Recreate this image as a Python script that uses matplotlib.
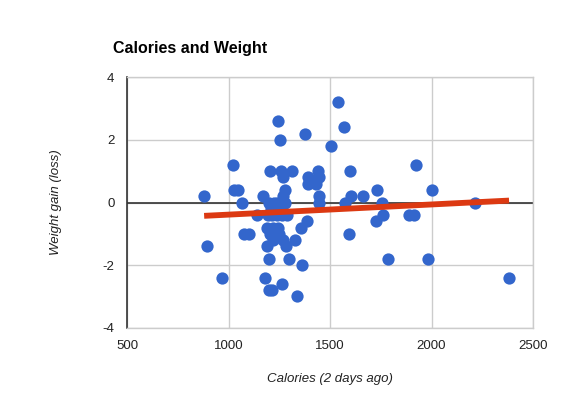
import matplotlib
matplotlib.use("Agg")
import matplotlib.pyplot as plt
import numpy as np

plt.rcParams['font.family'] = ['Liberation Sans', 'DejaVu Sans']
plt.rcParams['axes.unicode_minus'] = False

calories = [880, 895, 970, 1023, 1025, 1045, 1066, 1078, 1102, 1140,
            1170, 1180, 1198, 1212, 1262, 1336, 1360, 1200, 1300, 1190,
            1283, 1328, 1220, 1270, 1358, 1388, 1188, 1220, 1244, 1205,
            1235, 1250, 1242, 1252, 1377, 1506, 1541, 1570, 1600, 1924,
            2000, 2214, 2382, 1205, 1260, 1267, 1313, 1393, 1443, 1446,
            1393, 1430, 1276, 1267, 1447, 1445, 1575, 1603, 1663, 1730,
            1758, 1759, 1887, 1916, 1727, 1592, 1787, 1983, 1200, 1222,
            1240, 1262, 1280, 1230, 1255, 1195, 1215, 1240, 1265, 1288,
            1210]
weight = [0.2, -1.4, -2.4, 1.2, 0.4, 0.4, 0.0, -1.0, -1.0, -0.4,
          0.2, -2.4, -2.8, -2.8, -2.6, -3.0, -2.0, -1.8, -1.8, -1.4,
          -1.4, -1.2, -1.2, -1.2, -0.8, -0.6, -0.8, -0.8, -0.8, -1.0,
          -1.0, -1.0, 2.6, 2.0, 2.2, 1.8, 3.2, 2.4, 1.0, 1.2,
          0.4, 0.0, -2.4, 1.0, 1.0, 0.8, 1.0, 0.8, 1.0, 0.8,
          0.6, 0.6, 0.4, 0.2, 0.2, 0.0, 0.0, 0.2, 0.2, 0.4,
          0.0, -0.4, -0.4, -0.4, -0.6, -1.0, -1.8, -1.8, 0.0, 0.0,
          0.0, 0.0, 0.0, -0.2, -0.2, -0.4, -0.4, -0.4, -0.4, -0.4,
          -0.2]

x_ticks = [500, 1000, 1500, 2000, 2500]
y_ticks = [-4, -2, 0, 2, 4]

fig = plt.figure(figsize=(5.87, 3.98), dpi=100)
ax = fig.add_axes([127/587, 1-327.7/398, 406/587, 250.4/398])

ax.set_xlim(500, 2500)
ax.set_ylim(-4, 4)
ax.set_xticks(x_ticks)
ax.set_yticks(y_ticks)
ax.grid(True, color='#cccccc', linewidth=1)
ax.set_axisbelow(True)
for s in ['top', 'right', 'bottom']:
    ax.spines[s].set_color('#cccccc')
    ax.spines[s].set_linewidth(1)
ax.spines['left'].set_color('#333333')
ax.spines['left'].set_linewidth(1.2)
ax.axhline(0, color='#333333', linewidth=1.2, zorder=1)
ax.tick_params(length=0, labelsize=9.5, colors='#222222', pad=9)

ax.scatter(calories, weight, s=78, color='#3366cc', zorder=3, linewidths=0)

cx = np.array(calories, dtype=float)
wy = np.array(weight, dtype=float)
m, b = np.polyfit(cx, wy, 1)
xs = np.array([cx.min(), cx.max()])
ax.plot(xs, m * xs + b, color='#dc3912', linewidth=4.2, zorder=4, solid_capstyle='butt')

fig.text(113/587, 1-48/398, 'Calories and Weight', fontsize=11.5, fontweight='bold',
         ha='left', va='center', color='black')
fig.text(330/587, 1-379/398, 'Calories (2 days ago)', fontsize=9.5, style='italic',
         ha='center', va='center', color='#222222')
fig.text(56/587, 1-202/398, 'Weight gain (loss)', fontsize=9.5, style='italic',
         ha='center', va='center', rotation=90, color='#222222')

fig.savefig('out.png', dpi=100)
